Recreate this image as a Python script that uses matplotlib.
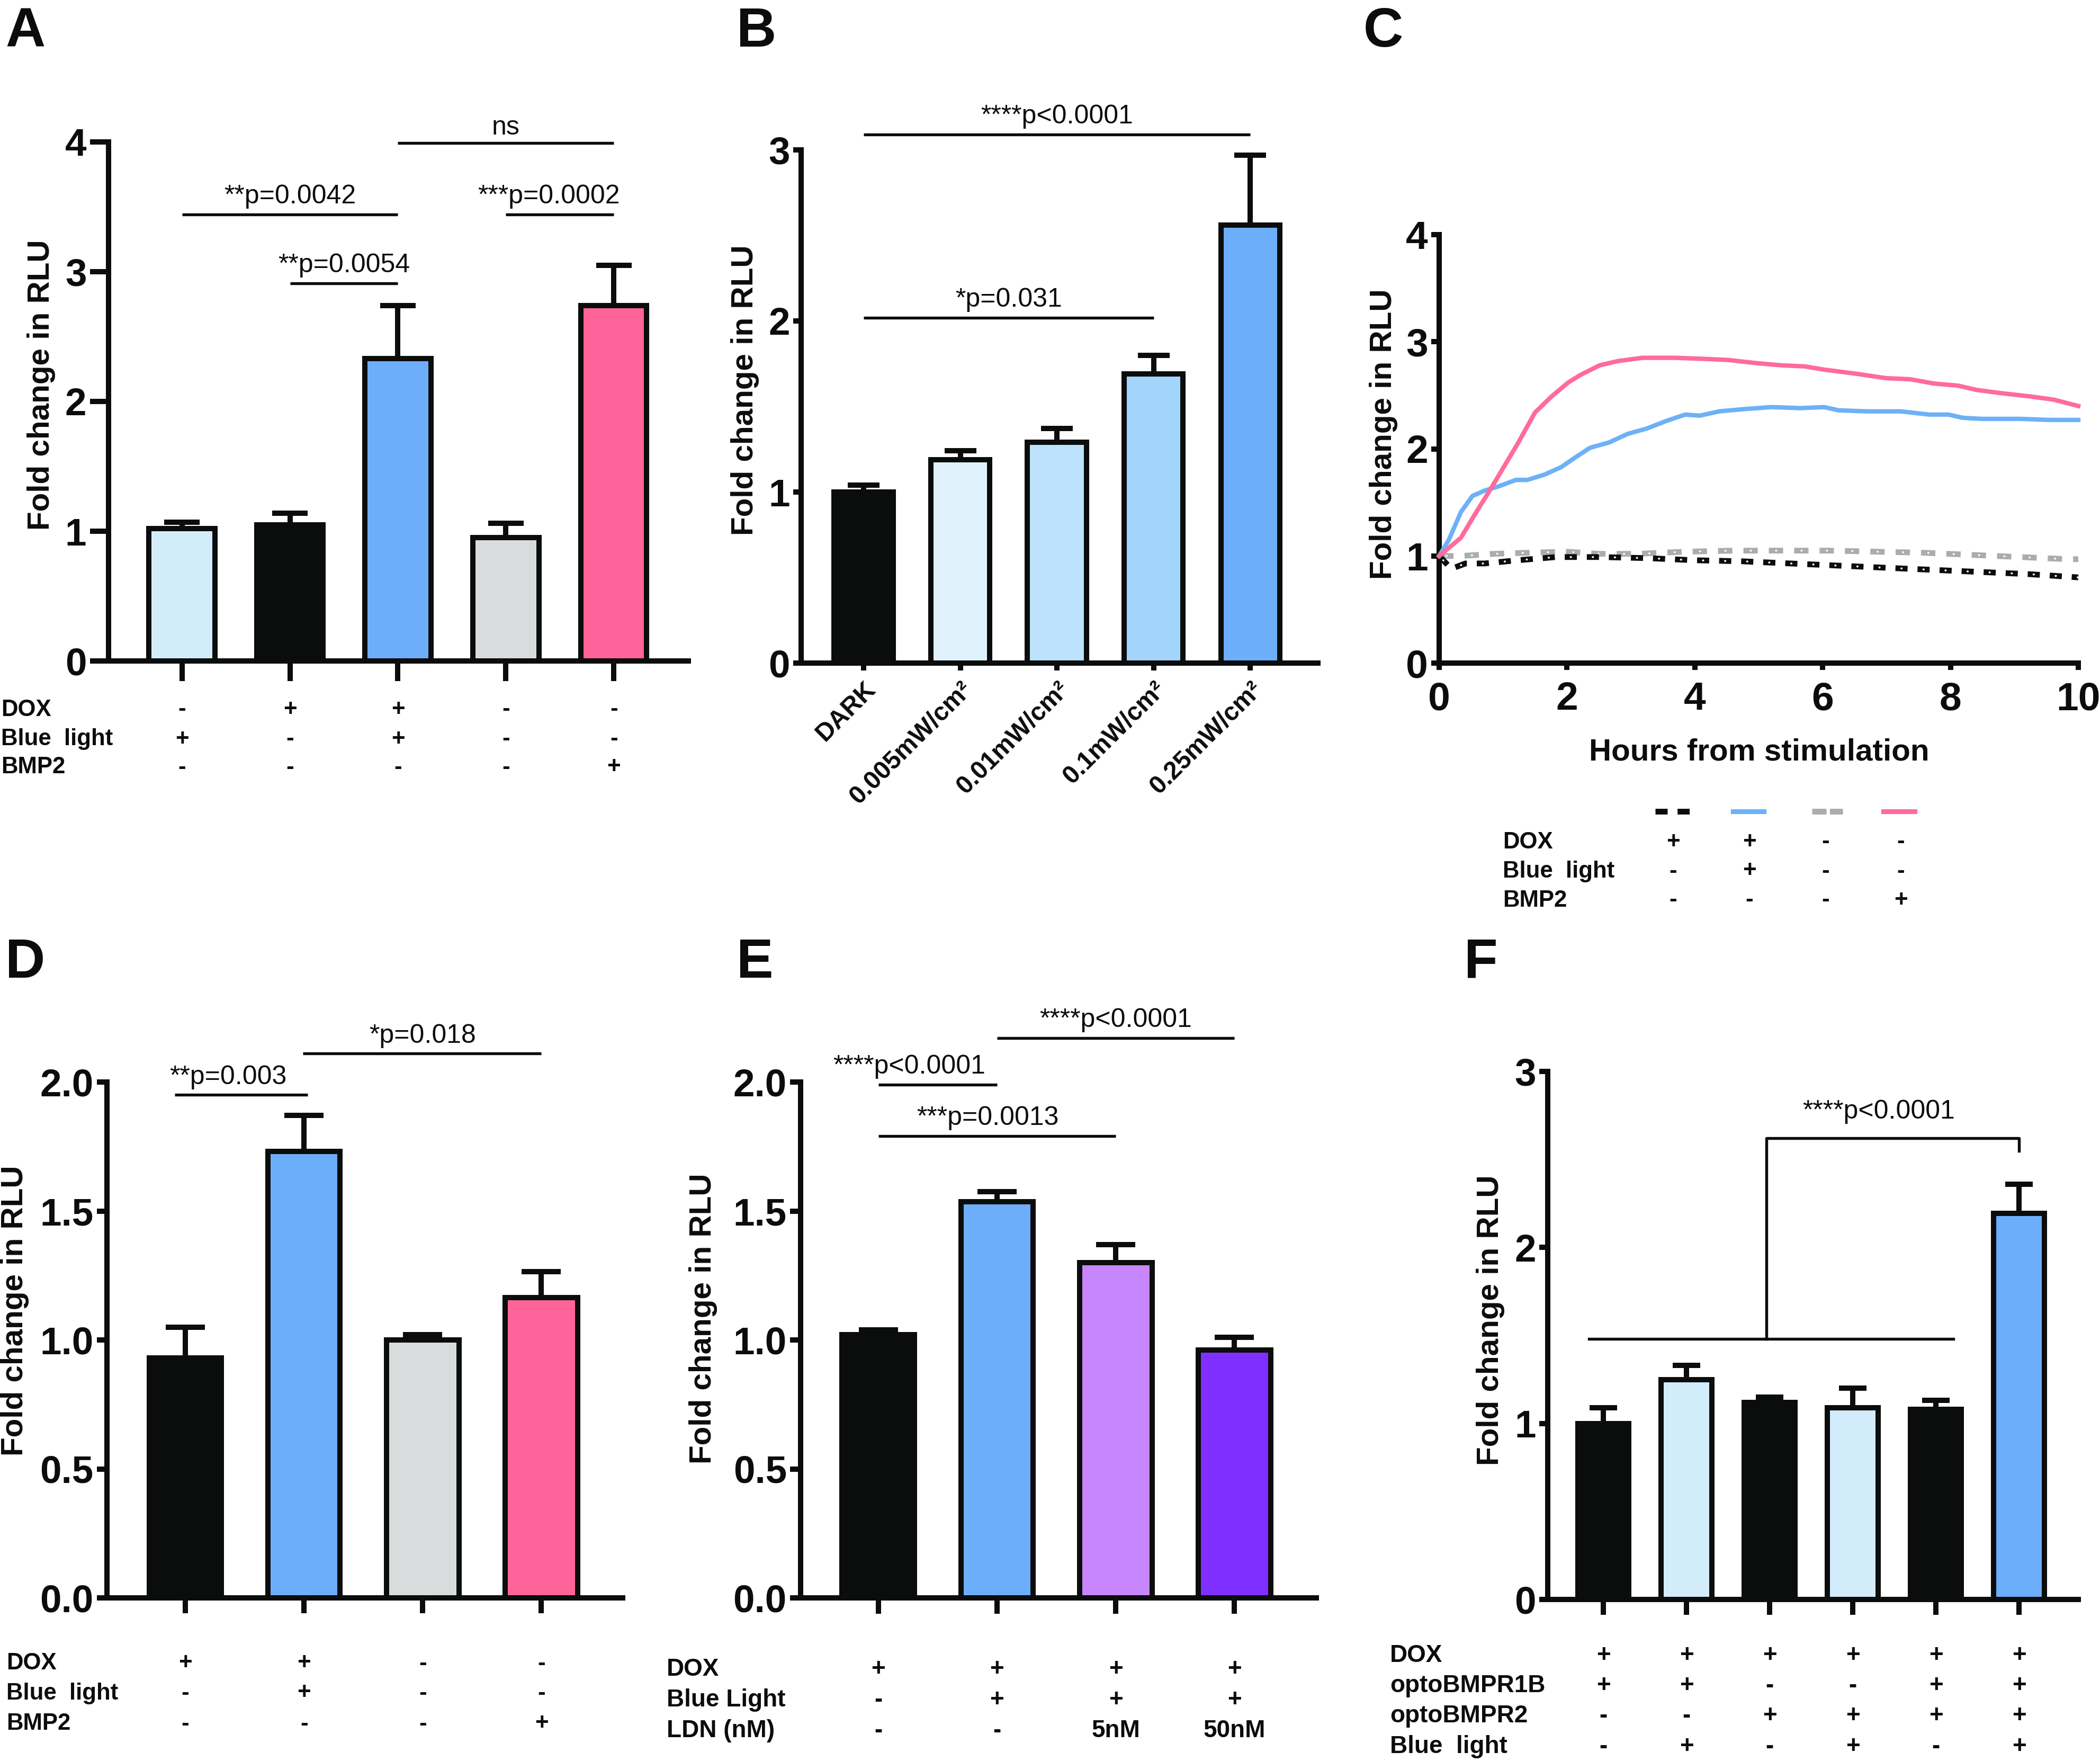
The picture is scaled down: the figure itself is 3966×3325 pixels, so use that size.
import numpy as np
import matplotlib
matplotlib.use("Agg")
import matplotlib.pyplot as plt
from matplotlib import transforms

plt.rcParams['font.family'] = ['Liberation Sans', 'DejaVu Sans']
plt.rcParams['font.weight'] = 'bold'
plt.rcParams['lines.scale_dashes'] = False

INK = '#0B0C0C'
LW = 2.4

# ---------------- data ----------------
# Panel A
a_values = [1.02, 1.05, 2.33, 0.95, 2.74]
a_errors = [0.05, 0.09, 0.41, 0.11, 0.31]
a_colors = ['#D3ECFB', INK, '#6CAEFA', '#D9DCDC', '#FE6499']
a_row_labels = ['DOX', 'Blue  light', 'BMP2']
a_dox = ['-', '+', '+', '-', '-']
a_light = ['+', '-', '+', '-', '-']
a_bmp2 = ['-', '-', '-', '-', '+']
a_yticks = [0, 1, 2, 3, 4]

# Panel B
b_labels = ['DARK', '0.005mW/cm²', '0.01mW/cm²', '0.1mW/cm²', '0.25mW/cm²']
b_values = [1.0, 1.19, 1.29, 1.69, 2.56]
b_errors = [0.04, 0.05, 0.08, 0.11, 0.41]
b_colors = [INK, '#E0F3FD', '#BCE2FC', '#A2D4FC', '#6CAEFA']
b_yticks = [0, 1, 2, 3]

# Panel C (time course)
c_pink_hours = [0, 0.34, 0.56, 0.79, 1.01, 1.23, 1.50, 1.76, 2.02, 2.21, 2.51, 2.80, 3.18,
                3.70, 4.15, 4.52, 4.97, 5.35, 5.72, 6.02, 6.54, 6.99, 7.37, 7.74, 8.12,
                8.41, 8.79, 9.24, 9.61, 10.0]
c_pink_values = [1.0, 1.17, 1.39, 1.61, 1.83, 2.05, 2.34, 2.49, 2.62, 2.69, 2.78, 2.82, 2.85,
                 2.85, 2.84, 2.83, 2.80, 2.78, 2.77, 2.74, 2.70, 2.66, 2.65, 2.61, 2.59,
                 2.55, 2.52, 2.49, 2.46, 2.40]
c_blue_hours = [0, 0.15, 0.34, 0.52, 0.71, 0.93, 1.20, 1.38, 1.65, 1.91, 2.13, 2.36, 2.66,
                2.95, 3.25, 3.55, 3.85, 4.08, 4.38, 4.75, 5.20, 5.65, 6.02, 6.25, 6.69,
                7.22, 7.67, 7.97, 8.19, 8.49, 9.09, 9.54, 10.0]
c_blue_values = [1.0, 1.15, 1.41, 1.56, 1.61, 1.65, 1.71, 1.71, 1.76, 1.83, 1.92, 2.01, 2.06,
                 2.14, 2.19, 2.26, 2.32, 2.31, 2.35, 2.37, 2.39, 2.38, 2.39, 2.36, 2.35,
                 2.35, 2.32, 2.32, 2.29, 2.28, 2.28, 2.27, 2.27]
c_gray_hours = [0, 0.34, 0.86, 1.38, 1.98, 2.51, 3.10, 3.85, 4.60, 5.35, 6.10, 6.84, 7.59,
                8.34, 9.09, 9.84, 10.0]
c_gray_values = [1.0, 1.00, 1.02, 1.03, 1.04, 1.02, 1.02, 1.04, 1.05, 1.05, 1.05, 1.04, 1.03,
                 1.01, 0.99, 0.97, 0.97]
c_black_hours = [0, 0.19, 0.41, 0.71, 1.23, 1.83, 2.51, 3.25, 4.00, 4.75, 5.50, 6.25, 6.99,
                 7.74, 8.49, 9.24, 10.0]
c_black_values = [1.0, 0.88, 0.93, 0.93, 0.96, 0.99, 0.99, 0.98, 0.96, 0.95, 0.93, 0.91, 0.89,
                  0.87, 0.85, 0.83, 0.80]
c_xticks = [0, 2, 4, 6, 8, 10]
c_yticks = [0, 1, 2, 3, 4]
c_row_labels = ['DOX', 'Blue  light', 'BMP2']
c_dox = ['+', '+', '-', '-']
c_light = ['-', '+', '-', '-']
c_bmp2 = ['-', '-', '-', '+']

# Panel D
d_values = [0.93, 1.73, 1.0, 1.165]
d_errors = [0.12, 0.14, 0.02, 0.10]
d_colors = [INK, '#6CAEFA', '#D9DCDC', '#FE6499']
d_row_labels = ['DOX', 'Blue  light', 'BMP2']
d_dox = ['+', '+', '-', '-']
d_light = ['-', '+', '-', '-']
d_bmp2 = ['-', '-', '-', '+']
d_yticks = [0.0, 0.5, 1.0, 1.5, 2.0]

# Panel E
e_values = [1.02, 1.535, 1.30, 0.96]
e_errors = [0.02, 0.04, 0.07, 0.05]
e_colors = [INK, '#6CAEFA', '#C886FC', '#7F2FFF']
e_row_labels = ['DOX', 'Blue Light', 'LDN (nM)']
e_dox = ['+', '+', '+', '+']
e_light = ['-', '+', '+', '+']
e_ldn = ['-', '-', '5nM', '50nM']
e_yticks = [0.0, 0.5, 1.0, 1.5, 2.0]

# Panel F
f_values = [1.0, 1.25, 1.12, 1.09, 1.08, 2.195]
f_errors = [0.09, 0.08, 0.03, 0.11, 0.05, 0.165]
f_colors = [INK, '#D3ECFB', INK, '#D3ECFB', INK, '#6CAEFA']
f_row_labels = ['DOX', 'optoBMPR1B', 'optoBMPR2', 'Blue  light']
f_dox = ['+', '+', '+', '+', '+', '+']
f_r1b = ['+', '+', '-', '-', '+', '+']
f_r2 = ['-', '-', '+', '+', '+', '+']
f_light = ['-', '+', '-', '+', '-', '+']
f_yticks = [0, 1, 2, 3]

# ---------------- figure ----------------
W, H = 3966, 3325
DPI = 300
fig = plt.figure(figsize=(W / DPI, H / DPI), dpi=DPI)

ov = fig.add_axes([0, 0, 1, 1])
ov.set_xlim(0, W)
ov.set_ylim(H, 0)
ov.axis('off')
ov.set_zorder(10)


def axes_px(left, right, y0, ytop):
    ax = fig.add_axes([left / W, 1 - y0 / H, (right - left) / W, (y0 - ytop) / H])
    ax.patch.set_visible(False)
    return ax


def style(ax, xlen, ylen, labelsize=17.5):
    for s in ['top', 'right']:
        ax.spines[s].set_visible(False)
    for s in ['left', 'bottom']:
        ax.spines[s].set_linewidth(LW)
        ax.spines[s].set_color(INK)
    ax.tick_params(axis='x', length=xlen, width=LW, color=INK, labelcolor=INK)
    ax.tick_params(axis='y', length=ylen, width=LW, color=INK, labelcolor=INK,
                   labelsize=labelsize, pad=1.5)


def bars(ax, values, errors, colors, xlim, ylim, yticks, fmt):
    x = np.arange(len(values))
    top = np.add(values, errors)
    ax.vlines(x, values, top, color=INK, lw=LW, zorder=2)
    ax.hlines(top, x - 0.165, x + 0.165, color=INK, lw=LW, zorder=2)
    ax.bar(x, values, width=0.61, color=colors, edgecolor=INK, linewidth=LW, zorder=3)
    ax.set_xlim(*xlim)
    ax.set_ylim(*ylim)
    ax.set_xticks(x)
    ax.set_yticks(yticks)
    ax.set_yticklabels([fmt.format(t) for t in yticks])
    return x


def sig(ax, x1, x2, y, text, tx, dy=5):
    ax.plot([x1, x2], [y, y], color=INK, lw=1.3, clip_on=False, solid_capstyle='butt')
    ax.annotate(text, xy=(tx, y), xytext=(0, dy), textcoords='offset points',
                ha='center', va='baseline', fontsize=12, fontweight='normal',
                color=INK, annotation_clip=False)


def table(ax, xs, rows, row_ys, labels, label_x, fs):
    blend = transforms.blended_transform_factory(ax.transData, ov.transData)
    for syms, yy, lab in zip(rows, row_ys, labels):
        ov.text(label_x, yy, lab, ha='left', va='center', fontsize=fs, color=INK)
        for xx, s in zip(xs, syms):
            ov.text(xx, yy, s, transform=blend, ha='center', va='center', fontsize=fs,
                    color=INK)


def ylabel(x, y):
    ov.text(x, y, 'Fold change in RLU', rotation=90, ha='center', va='center',
            fontsize=14, color=INK)


def letter(x, y, s):
    ov.text(x, y, s, ha='left', va='baseline', fontsize=25, color=INK)


# ---- Panel A ----
axA = axes_px(205, 1300, 1248, 268)
style(axA, xlen=9, ylen=8.5)
xa = bars(axA, a_values, a_errors, a_colors, (-0.68, 4.69), (0, 4), a_yticks, '{:d}')
axA.set_xticklabels([])
sig(axA, 0, 2, 3.44, '**p=0.0042', 1.0)
sig(axA, 1, 2, 2.91, '**p=0.0054', 1.5)
sig(axA, 2, 4, 3.99, 'ns', 3.0, dy=4)
sig(axA, 3, 4, 3.44, '***p=0.0002', 3.4)
table(axA, xa, [a_dox, a_light, a_bmp2], [1340, 1396, 1449], a_row_labels, 2, 10.5)
ylabel(78, 727)
letter(10, 88, 'A')

# ---- Panel B ----
axB = axes_px(1513, 2489, 1252, 283)
style(axB, xlen=3.4, ylen=3.6)
xb = bars(axB, b_values, b_errors, b_colors, (-0.647, 4.70), (0, 3), b_yticks, '{:d}')
axB.set_xticklabels(b_labels, rotation=45, ha='right', va='top', rotation_mode='anchor',
                    fontsize=11.5, fontweight='bold')
axB.tick_params(axis='x', pad=3)
sig(axB, 0, 4, 3.09, '****p<0.0001', 2.0)
sig(axB, 0, 3, 2.02, '*p=0.031', 1.5)
ylabel(1407, 737)
letter(1391, 88, 'B')

# ---- Panel C ----
axC = axes_px(2718, 3925, 1252, 443)
style(axC, xlen=3.2, ylen=3.6, labelsize=18)
axC.tick_params(axis='x', labelsize=18, pad=5)
axC.set_xlim(0, 10)
axC.set_ylim(0, 4)
axC.set_xticks(c_xticks)
axC.set_yticks(c_yticks)
axC.plot(c_gray_hours, c_gray_values, color='#A9ADB0', lw=2.6,
         linestyle=(0, (6.5, 5.0)), clip_on=False, zorder=3)
axC.plot(c_gray_hours, c_gray_values, color='white', lw=0.9,
         linestyle=(8.2, (0.1, 11.4)), dash_capstyle='round', clip_on=False, zorder=3)
axC.plot(c_black_hours, c_black_values, color=INK, lw=2.6,
         linestyle=(0, (5.5, 4.5)), clip_on=False, zorder=3)
axC.plot(c_black_hours, c_black_values, color='white', lw=0.9,
         linestyle=(7.3, (0.1, 9.9)), dash_capstyle='round', clip_on=False, zorder=3)
axC.plot(c_blue_hours, c_blue_values, color='#6DB1F7', lw=2.0, clip_on=False, zorder=4)
axC.plot(c_pink_hours, c_pink_values, color='#FF6B9B', lw=2.0, clip_on=False, zorder=4)
ov.text(3322, 1420, 'Hours from stimulation', ha='center', va='center', fontsize=14, color=INK)
ylabel(2613, 820)
letter(2575, 88, 'C')
# legend samples
leg_y = 1532
ov.plot([3126, 3191], [leg_y, leg_y], color=INK, lw=2.6, linestyle=(0, (5.5, 4.5)))
ov.plot([3273, 3331], [leg_y, leg_y], color='#6DB1F7', lw=2.2)
ov.plot([3422, 3480], [leg_y, leg_y], color='#A9ADB0', lw=2.6, linestyle=(0, (6.5, 1.5)))
ov.plot([3557, 3616], [leg_y, leg_y], color='#FF6B9B', lw=2.2)
c_cols = [3160, 3304, 3448, 3590]
for syms, yy, lab in zip([c_dox, c_light, c_bmp2], [1590, 1645, 1700], c_row_labels):
    ov.text(2838, yy, lab, ha='left', va='center', fontsize=10.5, color=INK)
    for xx, s in zip(c_cols, syms):
        ov.text(xx, yy, s, ha='center', va='center', fontsize=10.5, color=INK)

# ---- Panel D ----
axD = axes_px(202, 1176, 3017, 2043)
style(axD, xlen=7, ylen=4.6)
xd = bars(axD, d_values, d_errors, d_colors, (-0.66, 3.685), (0, 2), d_yticks, '{:.1f}')
axD.set_xticklabels([])
sig(axD, -0.09, 1.03, 1.95, '**p=0.003', 0.36)
sig(axD, 0.99, 3.0, 2.11, '*p=0.018', 2.0)
table(axD, xd, [d_dox, d_light, d_bmp2], [3141, 3197, 3255], d_row_labels, 12, 10.5)
ylabel(28, 2475)
letter(10, 1846, 'D')

# ---- Panel E ----
axE = axes_px(1512, 2486, 3017, 2043)
style(axE, xlen=7.2, ylen=4.8)
xe = bars(axE, e_values, e_errors, e_colors, (-0.655, 3.69), (0, 2), e_yticks, '{:.1f}')
axE.set_xticklabels([])
sig(axE, 0, 1, 1.99, '****p<0.0001', 0.26)
sig(axE, 0, 2, 1.79, '***p=0.0013', 0.92)
sig(axE, 1, 3, 2.17, '****p<0.0001', 2.0)
table(axE, xe, [e_dox, e_light, e_ldn], [3152, 3210, 3268], e_row_labels, 1259, 11)
ylabel(1328, 2490)
letter(1391, 1846, 'E')

# ---- Panel F ----
axF = axes_px(2923, 3925, 3020, 2023)
style(axF, xlen=7, ylen=3.8)
xf = bars(axF, f_values, f_errors, f_colors, (-0.669, 5.713), (0, 3), f_yticks, '{:d}')
axF.set_xticklabels([])
axF.plot([-0.17, 4.21], [1.48, 1.48], color=INK, lw=1.3, clip_on=False)
axF.plot([1.96, 1.96, 5.0, 5.0], [1.48, 2.62, 2.62, 2.55], color=INK, lw=1.3, clip_on=False)
axF.annotate('****p<0.0001', xy=(3.31, 2.62), xytext=(0, 9), textcoords='offset points',
             ha='center', va='baseline', fontsize=12, fontweight='normal', color=INK)
table(axF, xf, [f_dox, f_r1b, f_r2, f_light], [3126, 3183, 3240, 3298], f_row_labels, 2625, 11)
ylabel(2815, 2493)
letter(2765, 1846, 'F')

fig.savefig('out.png', dpi=DPI)
